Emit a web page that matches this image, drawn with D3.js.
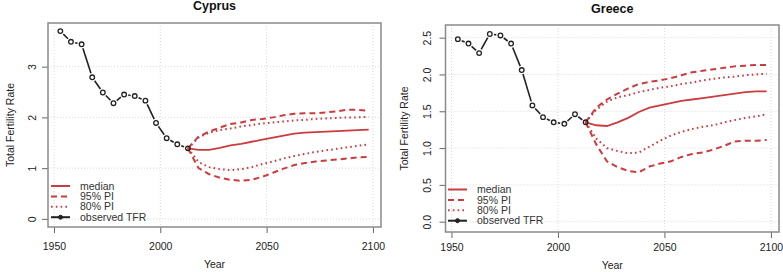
<!DOCTYPE html>
<html>
<head>
<meta charset="utf-8">
<script src="https://cdn.jsdelivr.net/npm/d3@7"></script>
<style>
  body { margin: 0; background: #fff; }
  svg { display: block; font-family: "Liberation Sans", Arial, sans-serif; }
</style>
</head>
<body>
<svg id="chart" width="783" height="272"></svg>
<script>
// ---------- data ----------
const obsYears = [1953, 1958, 1963, 1968, 1973, 1978, 1983, 1988, 1993, 1998, 2003, 2008, 2013];
const projYears = [2013, 2018, 2023, 2028, 2033, 2038, 2043, 2048, 2053, 2058, 2063, 2068, 2073, 2078, 2083, 2088, 2093, 2098];
const xTicks = [1950, 2000, 2050, 2100];

const cyprusObs    = [3.70, 3.49, 3.44, 2.79, 2.49, 2.28, 2.45, 2.42, 2.33, 1.89, 1.59, 1.47, 1.39];
const cyprusMedian = [1.39, 1.36, 1.36, 1.40, 1.45, 1.48, 1.52, 1.56, 1.60, 1.64, 1.68, 1.70, 1.71, 1.72, 1.73, 1.74, 1.75, 1.76];
const cyprusU95    = [1.39, 1.62, 1.72, 1.80, 1.87, 1.90, 1.95, 1.97, 2.00, 2.04, 2.07, 2.08, 2.08, 2.10, 2.12, 2.15, 2.15, 2.13];
const cyprusL95    = [1.39, 1.00, 0.88, 0.81, 0.77, 0.75, 0.77, 0.83, 0.91, 0.99, 1.06, 1.10, 1.13, 1.15, 1.17, 1.19, 1.21, 1.22];
const cyprusU80    = [1.39, 1.60, 1.70, 1.75, 1.78, 1.82, 1.85, 1.88, 1.90, 1.92, 1.94, 1.95, 1.97, 1.98, 1.99, 2.00, 2.00, 2.01];
const cyprusL80    = [1.39, 1.12, 1.02, 0.98, 0.96, 0.98, 1.02, 1.08, 1.13, 1.19, 1.24, 1.28, 1.32, 1.35, 1.38, 1.41, 1.44, 1.47];
const cyprusYTicks = [0, 1, 2, 3];

const greeceObs    = [2.48, 2.42, 2.29, 2.55, 2.53, 2.42, 2.06, 1.58, 1.42, 1.35, 1.33, 1.46, 1.35];
const greeceMedian = [1.35, 1.31, 1.30, 1.35, 1.41, 1.49, 1.55, 1.58, 1.61, 1.64, 1.66, 1.68, 1.70, 1.72, 1.74, 1.76, 1.77, 1.77];
const greeceU95    = [1.35, 1.55, 1.66, 1.74, 1.81, 1.87, 1.90, 1.92, 1.95, 1.99, 2.03, 2.05, 2.07, 2.09, 2.11, 2.12, 2.13, 2.13];
const greeceL95    = [1.35, 1.05, 0.82, 0.74, 0.69, 0.67, 0.75, 0.79, 0.82, 0.88, 0.92, 0.94, 0.98, 1.03, 1.09, 1.10, 1.10, 1.11];
const greeceU80    = [1.35, 1.52, 1.63, 1.69, 1.72, 1.76, 1.79, 1.82, 1.84, 1.87, 1.89, 1.92, 1.94, 1.96, 1.97, 1.99, 2.00, 2.01];
const greeceL80    = [1.35, 1.13, 1.00, 0.96, 0.93, 0.94, 1.02, 1.10, 1.17, 1.22, 1.26, 1.29, 1.31, 1.35, 1.38, 1.41, 1.43, 1.46];
const greeceYTicks = [0, 0.5, 1, 1.5, 2, 2.5];

const legendLabels = ["median", "95% PI", "80% PI", "observed TFR"];
const titles = ["Cyprus", "Greece"];

// ---------- layout ----------
const RED = "#cc3b3f";
const panels = [
  { title: titles[0], obs: cyprusObs, median: cyprusMedian, u95: cyprusU95, l95: cyprusL95, u80: cyprusU80, l80: cyprusL80,
    yTicks: cyprusYTicks, yFmt: d3.format("d"), yDomain: [-0.16, 3.86],
    box: { x0: 48, x1: 381, y0: 23, y1: 227 }, titleY: 10, yLabX: 10, tickLabX: 32, legX: 51, legY: 186, xlabY: 268, xTickBase: 250 },
  { title: titles[1], obs: greeceObs, median: greeceMedian, u95: greeceU95, l95: greeceL95, u80: greeceU80, l80: greeceL80,
    yTicks: greeceYTicks, yFmt: d3.format(".1f"), yDomain: [-0.14, 2.672],
    box: { x0: 445.5, x1: 779, y0: 25, y1: 232 }, titleY: 12.5, yLabX: 404, tickLabX: 427, legX: 448, legY: 189.5, xlabY: 269, xTickBase: 250.5 }
];

const svg = d3.select("#chart");

panels.forEach(p => {
  const b = p.box;
  const x = d3.scaleLinear().domain([1947.2, 2103.8]).range([b.x0, b.x1]);
  const y = d3.scaleLinear().domain(p.yDomain).range([b.y1, b.y0]);
  const g = svg.append("g");

  // grid
  g.append("g").selectAll("line").data(xTicks).join("line")
    .attr("x1", d => x(d)).attr("x2", d => x(d)).attr("y1", b.y0).attr("y2", b.y1)
    .attr("stroke", "#d8d8d8").attr("stroke-width", 1).attr("stroke-dasharray", "1,2");
  g.append("g").selectAll("line").data(p.yTicks).join("line")
    .attr("x1", b.x0).attr("x2", b.x1).attr("y1", d => y(d)).attr("y2", d => y(d))
    .attr("stroke", "#d8d8d8").attr("stroke-width", 1).attr("stroke-dasharray", "1,2");

  // axes
  const xAxis = d3.axisBottom(x).tickValues(xTicks).tickSize(6).tickPadding(6).tickFormat(d3.format("d"));
  const gx = g.append("g").attr("transform", `translate(0,${b.y1})`).call(xAxis);
  gx.select(".domain").remove();
  gx.selectAll("line").attr("stroke", "#666");
  gx.selectAll("text").attr("font-size", "10.5px").attr("fill", "#222")
    .attr("font-family", "Liberation Sans, Arial, sans-serif")
    .attr("dy", null).attr("y", p.xTickBase - b.y1);

  const yAxis = d3.axisLeft(y).tickValues(p.yTicks).tickSize(6).tickFormat(p.yFmt);
  const gy = g.append("g").attr("transform", `translate(${b.x0},0)`).call(yAxis);
  gy.select(".domain").remove();
  gy.selectAll("line").attr("stroke", "#666");
  gy.selectAll("text").attr("font-size", "10.5px").attr("fill", "#222")
    .attr("font-family", "Liberation Sans, Arial, sans-serif")
    .attr("x", null).attr("dy", null)
    .attr("text-anchor", "middle")
    .attr("transform", `translate(${p.tickLabX - b.x0 + 4},0) rotate(-90)`)
    .attr("y", 0);

  // box
  g.append("rect").attr("x", b.x0).attr("y", b.y0).attr("width", b.x1 - b.x0).attr("height", b.y1 - b.y0)
    .attr("fill", "none").attr("stroke", "#8a8a8a").attr("stroke-width", 1.5);

  // titles and labels
  g.append("text").attr("x", (b.x0 + b.x1) / 2).attr("y", p.titleY).attr("text-anchor", "middle")
    .attr("font-weight", "bold").attr("font-size", "12.5px").attr("fill", "#111").text(p.title);
  g.append("text").attr("x", (b.x0 + b.x1) / 2).attr("y", p.xlabY).attr("text-anchor", "middle")
    .attr("font-size", "10.5px").attr("fill", "#222").text("Year");
  g.append("text").attr("transform", `translate(${p.yLabX + 4},${(b.y0 + b.y1) / 2}) rotate(-90)`)
    .attr("text-anchor", "middle").attr("font-size", "10.5px").attr("fill", "#222").text("Total Fertility Rate");

  // projections
  const line = d3.line().x((d, i) => x(projYears[i])).y(d => y(d)).curve(d3.curveLinear);
  const styles = [
    { data: p.u95, dash: "6,4", w: 2 },
    { data: p.l95, dash: "6,4", w: 2 },
    { data: p.u80, dash: "1.6,3.2", w: 2 },
    { data: p.l80, dash: "1.6,3.2", w: 2 },
    { data: p.median, dash: null, w: 1.8 }
  ];
  styles.forEach(s => {
    g.append("path").attr("d", line(s.data)).attr("fill", "none").attr("stroke", RED)
      .attr("stroke-width", s.w).attr("stroke-dasharray", s.dash);
  });

  // observed: type "b" (lines with gaps around points)
  const pts = p.obs.map((v, i) => [x(obsYears[i]), y(v)]);
  const gap = 4.2;
  for (let i = 0; i < pts.length - 1; i++) {
    const [x1, y1] = pts[i], [x2, y2] = pts[i + 1];
    const dx = x2 - x1, dy = y2 - y1, d = Math.hypot(dx, dy);
    if (d > 2 * gap + 0.5) {
      const ux = dx / d, uy = dy / d;
      g.append("line")
        .attr("x1", x1 + ux * gap).attr("y1", y1 + uy * gap)
        .attr("x2", x2 - ux * gap).attr("y2", y2 - uy * gap)
        .attr("stroke", "#222").attr("stroke-width", 1.6);
    }
  }
  g.append("g").selectAll("circle").data(pts).join("circle")
    .attr("cx", d => d[0]).attr("cy", d => d[1]).attr("r", 2.3)
    .attr("fill", "none").attr("stroke", "#222").attr("stroke-width", 1.3);

  // legend
  const lg = g.append("g").attr("text-anchor", "start");
  legendLabels.forEach((lab, i) => {
    const yy = p.legY + i * 10.4;
    const isObs = i === 3;
    lg.append("line").attr("x1", p.legX).attr("x2", p.legX + 19).attr("y1", yy).attr("y2", yy)
      .attr("stroke", isObs ? "#222" : RED).attr("stroke-width", 2)
      .attr("stroke-dasharray", i === 1 ? "6,4" : i === 2 ? "1.6,3.2" : null);
    if (isObs) {
      lg.append("circle").attr("cx", p.legX + 9.5).attr("cy", yy).attr("r", 2)
        .attr("fill", "#222").attr("stroke", "#222");
    }
    lg.append("text").attr("x", p.legX + 29).attr("y", yy + 3.6)
      .attr("text-anchor", "start")
      .attr("font-size", "10.5px").attr("fill", "#333").text(lab);
  });
});
</script>
</body>
</html>
